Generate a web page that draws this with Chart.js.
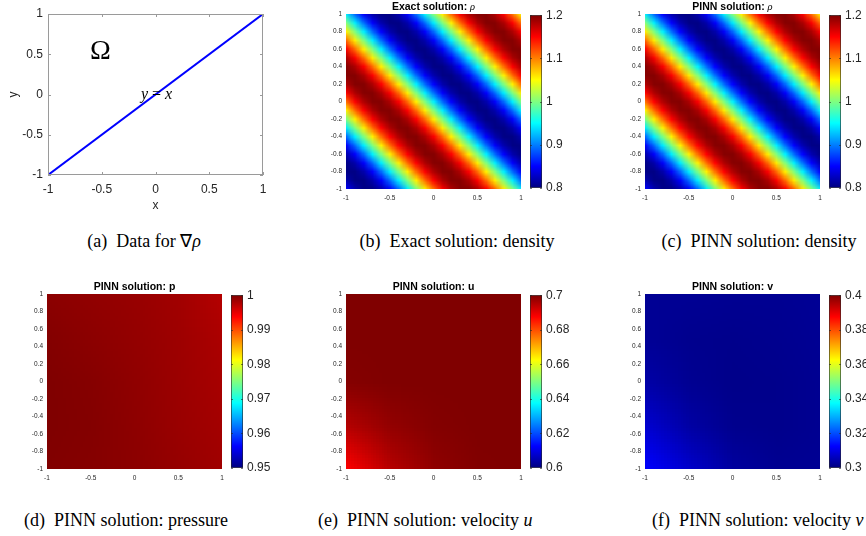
<!DOCTYPE html>
<html>
<head>
<meta charset="utf-8">
<script src="https://cdn.jsdelivr.net/npm/chart.js@4.4.0/dist/chart.umd.min.js"></script>
<style>
  body { margin: 0; background: #fff; width: 866px; height: 536px; overflow: hidden; position: relative; }
  canvas { position: absolute; }
  .cap { position: absolute; font-family: "Liberation Serif", "Times New Roman", serif; font-size: 18px;
         line-height: 20px; white-space: nowrap; color: #000; }
  .mid { transform: translateX(-50%); }
</style>
</head>
<body>
<div class="cap mid" style="left:144px;top:231px">(a)&nbsp; Data for ∇<i>ρ</i></div>
<div class="cap mid" style="left:457px;top:231px">(b)&nbsp; Exact solution: density</div>
<div class="cap mid" style="left:759px;top:231px">(c)&nbsp; PINN solution: density</div>
<div class="cap" style="left:24px;top:510px">(d)&nbsp; PINN solution: pressure</div>
<div class="cap" style="left:318px;top:510px">(e)&nbsp; PINN solution: velocity <i>u</i></div>
<div class="cap" style="left:652px;top:510px">(f)&nbsp; PINN solution: velocity <i>v</i></div>
<script>
'use strict';

/* Data */
// (a) the data line y = x
const lineX = [-1, 1];
const lineY = [-1, 1];
const ticksA = [-1, -0.5, 0, 0.5, 1];

// heatmap axes
const heatXTicks = [-1, -0.5, 0, 0.5, 1];
const heatYTicks = [-1, -0.8, -0.6, -0.4, -0.2, 0, 0.2, 0.4, 0.6, 0.8, 1];

// density along s = x + y, s = -2 ... 2 in steps of 0.1
const rhoExact = [0.849, 0.818, 0.802, 0.802, 0.818, 0.849, 0.892, 0.944, 1.000, 1.056,
  1.108, 1.151, 1.182, 1.198, 1.198, 1.182, 1.151, 1.108, 1.056, 1.000,
  0.944, 0.892, 0.849, 0.818, 0.802, 0.802, 0.818, 0.849, 0.892, 0.944,
  1.000, 1.056, 1.108, 1.151, 1.182, 1.198, 1.198, 1.182, 1.151, 1.108, 1.056];
const rhoPinn = [0.851, 0.819, 0.803, 0.802, 0.817, 0.848, 0.891, 0.943, 0.999, 1.055,
  1.107, 1.150, 1.181, 1.197, 1.198, 1.183, 1.152, 1.109, 1.057, 1.001,
  0.945, 0.893, 0.850, 0.819, 0.803, 0.802, 0.817, 0.848, 0.891, 0.943,
  0.999, 1.055, 1.107, 1.150, 1.181, 1.197, 1.198, 1.183, 1.152, 1.110, 1.058];
const rhoNodes = [-1, -0.9, -0.8, -0.7, -0.6, -0.5, -0.4, -0.3, -0.2, -0.1, 0,
  0.1, 0.2, 0.3, 0.4, 0.5, 0.6, 0.7, 0.8, 0.9, 1];

// coarse fields, rows from y = 1 (top) to y = -1, columns x = -1 ... 1
const coarseNodes = [-1, -0.5, 0, 0.5, 1];
const pGrid = [
  [0.9994, 0.9991, 0.9988, 0.9983, 0.9974],
  [0.9998, 0.9994, 0.9990, 0.9985, 0.9978],
  [1.0000, 0.9997, 0.9992, 0.9986, 0.9980],
  [1.0000, 0.9998, 0.9993, 0.9987, 0.9982],
  [0.9999, 0.9997, 0.9994, 0.9989, 0.9984]];
const uGrid = [
  [0.7020, 0.7020, 0.7020, 0.7020, 0.7020],
  [0.7010, 0.7015, 0.7020, 0.7020, 0.7020],
  [0.6995, 0.7005, 0.7015, 0.7020, 0.7020],
  [0.6948, 0.6981, 0.6996, 0.7008, 0.7015],
  [0.6875, 0.6946, 0.6984, 0.6998, 0.7008]];
const vGrid = [
  [0.3020, 0.3020, 0.3018, 0.3018, 0.3022],
  [0.3022, 0.3014, 0.3012, 0.3015, 0.3020],
  [0.3039, 0.3018, 0.3010, 0.3012, 0.3018],
  [0.3079, 0.3036, 0.3014, 0.3012, 0.3018],
  [0.3125, 0.3075, 0.3031, 0.3018, 0.3020]];

// colour bar ticks
const rhoTicks = [0.8, 0.9, 1, 1.1, 1.2];
const pTicks = [0.95, 0.96, 0.97, 0.98, 0.99, 1];
const uTicks = [0.6, 0.62, 0.64, 0.66, 0.68, 0.7];
const vTicks = [0.3, 0.32, 0.34, 0.36, 0.38, 0.4];

/* helpers */
const SANS = '"Liberation Sans", Arial, Helvetica, sans-serif';
const SERIF = '"Liberation Serif", "Times New Roman", serif';
const INK = '#262626';
const fmt = (v) => String(Number(v.toFixed(3)));

const jet = (t) => {
  t = Math.min(1, Math.max(0, t));
  const f = (c) => Math.round(255 * Math.min(1, Math.max(0, 1.5 - Math.abs(4 * t - c))));
  return [f(3), f(2), f(1)];
};

// turn a profile along s = x + y into a grid (rows from top)
const profileToGrid = (profile, n) => {
  const rows = [];
  for (let k = n - 1; k >= 0; k--) {
    const row = [];
    for (let i = 0; i < n; i++) row.push(profile[i + k]);
    rows.push(row);
  }
  return rows;
};

const addCanvas = (left, top, w, h) => {
  const c = document.createElement('canvas');
  c.width = w; c.height = h;
  c.style.left = left + 'px'; c.style.top = top + 'px';
  document.body.appendChild(c);
  return c;
};

const fixTicks = (arr) => (scale) => { scale.ticks = arr.map((v) => ({ value: v })); };
const noGrid = { display: false, drawTicks: false };

const heatmapPlugin = {
  id: 'heatmap',
  beforeDatasetsDraw(chart, args, opts) {
    const { ctx, chartArea: a, scales: { x, y } } = chart;
    const g = opts.grid, nodes = opts.nodes;
    const rows = g.length, cols = g[0].length;
    const off = document.createElement('canvas');
    off.width = cols; off.height = rows;
    const octx = off.getContext('2d');
    const img = octx.createImageData(cols, rows);
    for (let r = 0; r < rows; r++) {
      for (let c = 0; c < cols; c++) {
        const rgb = jet((g[r][c] - opts.min) / (opts.max - opts.min));
        const o = (r * cols + c) * 4;
        img.data[o] = rgb[0]; img.data[o + 1] = rgb[1]; img.data[o + 2] = rgb[2]; img.data[o + 3] = 255;
      }
    }
    octx.putImageData(img, 0, 0);
    const lo = nodes[0], hi = nodes[nodes.length - 1];
    const h = (hi - lo) / (nodes.length - 1);
    const l = x.getPixelForValue(lo - h / 2), rr = x.getPixelForValue(hi + h / 2);
    const t = y.getPixelForValue(hi + h / 2), b = y.getPixelForValue(lo - h / 2);
    ctx.save();
    ctx.beginPath();
    ctx.rect(a.left, a.top, a.right - a.left, a.bottom - a.top);
    ctx.clip();
    ctx.imageSmoothingEnabled = true;
    ctx.drawImage(off, l, t, rr - l, b - t);
    ctx.restore();
  }
};

const textPlugin = {
  id: 'texts',
  afterDraw(chart, args, opts) {
    const { ctx, chartArea: a } = chart;
    ctx.save();
    ctx.fillStyle = '#000';
    (opts.items || []).forEach((it) => {
      let total = 0;
      it.parts.forEach((p) => { ctx.font = p.font; total += ctx.measureText(p.text).width; });
      let px, py;
      if (it.title) {
        px = (a.left + a.right) / 2 - total / 2;
        py = a.top - it.gap;
        ctx.textBaseline = 'alphabetic';
      } else {
        px = chart.scales.x.getPixelForValue(it.x);
        py = chart.scales.y.getPixelForValue(it.y);
        if (it.align === 'center') px -= total / 2;
        ctx.textBaseline = 'middle';
      }
      it.parts.forEach((p) => {
        ctx.font = p.font;
        ctx.fillText(p.text, px, py);
        px += ctx.measureText(p.text).width;
      });
    });
    ctx.restore();
  }
};

const boxPlugin = {
  id: 'box',
  afterDraw(chart, args, opts) {
    const { ctx, chartArea: a, scales } = chart;
    ctx.save();
    ctx.strokeStyle = opts.color;
    ctx.lineWidth = 1;
    ctx.strokeRect(Math.round(a.left) + 0.5, Math.round(a.top) + 0.5,
      Math.round(a.right - a.left) - 1, Math.round(a.bottom - a.top) - 1);
    const len = opts.tick;
    ctx.beginPath();
    if (scales.x && scales.x.options.display !== false) {
      scales.x.ticks.forEach((t) => {
        const p = Math.round(scales.x.getPixelForValue(t.value)) + 0.5;
        ctx.moveTo(p, a.bottom); ctx.lineTo(p, a.bottom - len);
        ctx.moveTo(p, a.top); ctx.lineTo(p, a.top + len);
      });
    }
    scales.y.ticks.forEach((t) => {
      const p = Math.round(scales.y.getPixelForValue(t.value)) + 0.5;
      ctx.moveTo(a.left, p); ctx.lineTo(a.left + len, p);
      ctx.moveTo(a.right, p); ctx.lineTo(a.right - len, p);
    });
    ctx.stroke();
    ctx.restore();
  }
};

const baseOpts = {
  responsive: false,
  animation: false,
  events: [],
};

/* (a) data line */
(function () {
  const cv = addCanvas(0, 0, 290, 215);
  new Chart(cv, {
    type: 'scatter',
    data: {
      datasets: [{
        data: lineX.map((x, i) => ({ x: x, y: lineY[i] })),
        showLine: true,
        borderColor: '#0000ff',
        borderWidth: 2,
        pointRadius: 0,
      }]
    },
    options: Object.assign({}, baseOpts, {
      layout: { padding: { top: 14, right: 27, left: 0, bottom: 0 } },
      plugins: {
        legend: { display: false },
        tooltip: { enabled: false },
        box: { color: '#9a9a9a', tick: 3 },
        texts: {
          items: [
            { x: -0.61, y: 0.53, parts: [{ text: 'Ω', font: '28px ' + SERIF }] },
            { x: 0.01, y: 0.0, align: 'center', parts: [
              { text: 'y', font: 'italic 16px ' + SERIF },
              { text: ' = ', font: '16px ' + SERIF },
              { text: 'x', font: 'italic 16px ' + SERIF }] },
          ]
        }
      },
      scales: {
        x: {
          type: 'linear', min: -1, max: 1,
          afterBuildTicks: fixTicks(ticksA),
          afterFit: (s) => { s.height = 40; },
          grid: noGrid,
          border: { display: false },
          ticks: { color: INK, font: { family: SANS, size: 12 }, padding: 7, maxRotation: 0, callback: fmt },
          title: { display: true, text: 'x', color: INK, font: { family: SANS, size: 12 }, padding: { top: 0, bottom: 2 } },
        },
        y: {
          type: 'linear', min: -1, max: 1,
          afterBuildTicks: fixTicks(ticksA),
          afterFit: (s) => { s.width = 48; },
          grid: noGrid,
          border: { display: false },
          ticks: { color: INK, font: { family: SANS, size: 12 }, padding: 5, callback: fmt },
          title: { display: true, text: 'y', color: INK, font: { family: SANS, size: 12 }, padding: { top: 6, bottom: 0 } },
        }
      }
    }),
    plugins: [boxPlugin, textPlugin]
  });
})();

/* heatmap panels */
function heatPanel(plotLeft, plotTop, grid, nodes, clim, titleParts) {
  const cv = addCanvas(plotLeft - 46, plotTop - 14, 46 + 175 + 8, 14 + 175 + 16);
  new Chart(cv, {
    type: 'scatter',
    data: { datasets: [] },
    options: Object.assign({}, baseOpts, {
      layout: { padding: { top: 14, right: 8, left: 0, bottom: 0 } },
      plugins: {
        legend: { display: false },
        tooltip: { enabled: false },
        heatmap: { grid: grid, nodes: nodes, min: clim[0], max: clim[1] },
        texts: { items: [{ title: true, gap: 4, parts: titleParts }] }
      },
      scales: {
        x: {
          type: 'linear', min: -1, max: 1,
          afterBuildTicks: fixTicks(heatXTicks),
          afterFit: (s) => { s.height = 16; },
          grid: noGrid,
          border: { display: false },
          ticks: { color: INK, font: { family: SANS, size: 6.5 }, padding: 5, maxRotation: 0, callback: fmt },
        },
        y: {
          type: 'linear', min: -1, max: 1,
          afterBuildTicks: fixTicks(heatYTicks),
          afterFit: (s) => { s.width = 46; },
          grid: noGrid,
          border: { display: false },
          ticks: { color: INK, font: { family: SANS, size: 6.5 }, padding: 4, callback: fmt },
        }
      }
    }),
    plugins: [heatmapPlugin, textPlugin]
  });
}

function colorBar(left, top, ticks) {
  const lo = ticks[0], hi = ticks[ticks.length - 1];
  const cv = addCanvas(left - 2, top - 10, 50, 175 + 20);
  new Chart(cv, {
    type: 'bar',
    data: {
      labels: ['c'],
      datasets: [{
        data: [[lo, hi]],
        barPercentage: 1,
        categoryPercentage: 1,
        borderWidth: 0,
        backgroundColor: (c) => {
          const a = c.chart.chartArea;
          if (!a) return '#000080';
          const gr = c.chart.ctx.createLinearGradient(0, a.bottom, 0, a.top);
          gr.addColorStop(0, '#000080');
          gr.addColorStop(1 / 8, '#0000ff');
          gr.addColorStop(3 / 8, '#00ffff');
          gr.addColorStop(5 / 8, '#ffff00');
          gr.addColorStop(7 / 8, '#ff0000');
          gr.addColorStop(1, '#800000');
          return gr;
        }
      }]
    },
    options: Object.assign({}, baseOpts, {
      layout: { padding: { top: 10, bottom: 10, left: 2, right: 0 } },
      plugins: {
        legend: { display: false },
        tooltip: { enabled: false },
        box: { color: 'rgba(38,38,38,0.6)', tick: 2 },
      },
      scales: {
        x: { display: false },
        y: {
          position: 'right', min: lo, max: hi,
          afterBuildTicks: fixTicks(ticks),
          afterFit: (s) => { s.width = 36; },
          grid: noGrid,
          border: { display: false },
          ticks: { color: INK, font: { family: SANS, size: 12 }, padding: 4, callback: fmt },
        }
      }
    }),
    plugins: [boxPlugin]
  });
}

const titleBold = (t) => [{ text: t, font: 'bold 10.5px ' + SANS }];
const titleRho = (t) => [{ text: t, font: 'bold 10.5px ' + SANS }, { text: 'ρ', font: 'italic 10.5px ' + SERIF }];

heatPanel(346, 14, profileToGrid(rhoExact, rhoNodes.length), rhoNodes, [0.8, 1.2], titleRho('Exact solution: '));
colorBar(530, 14, rhoTicks);
heatPanel(645, 14, profileToGrid(rhoPinn, rhoNodes.length), rhoNodes, [0.8, 1.2], titleRho('PINN solution: '));
colorBar(829, 14, rhoTicks);

heatPanel(47, 294, pGrid, coarseNodes, [0.95, 1], titleBold('PINN solution: p'));
colorBar(231, 294, pTicks);
heatPanel(346, 294, uGrid, coarseNodes, [0.6, 0.7], titleBold('PINN solution: u'));
colorBar(530, 294, uTicks);
heatPanel(645, 294, vGrid, coarseNodes, [0.3, 0.4], titleBold('PINN solution: v'));
colorBar(829, 294, vTicks);
</script>
</body>
</html>
